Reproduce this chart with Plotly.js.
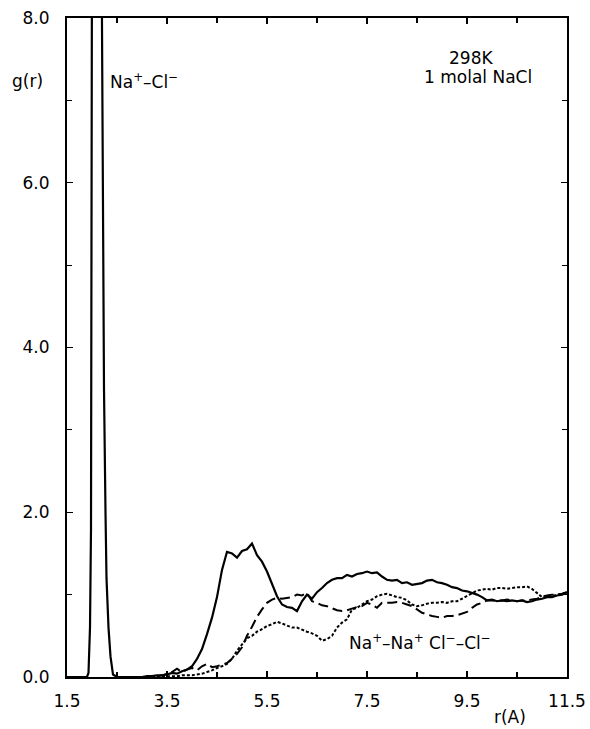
<!DOCTYPE html>
<html>
<head>
<meta charset="utf-8">
<script src="https://cdn.plot.ly/plotly-3.0.1.min.js"></script>
<style>html,body{margin:0;padding:0;background:#fff;}#chart{width:590px;height:729px;}</style>
</head>
<body>
<div id="chart"></div>
<script>
// Na+-Cl- g(r): peak region
var rNaClPeak = [1.5, 1.9, 1.93, 1.96, 1.98, 1.99, 2.0, 2.05, 2.1, 2.15, 2.19, 2.21, 2.24, 2.27, 2.29, 2.33, 2.37, 2.42, 2.5, 2.7];
var gNaClPeak = [0, 0, 0.05, 0.6, 1.8, 4.5, 9, 14, 16, 14, 9, 6, 3.5, 2.0, 1.2, 0.6, 0.25, 0.03, 0, 0];

// common r grid for the far region
var rGrid = [3.0,3.1,3.2,3.3,3.4,3.5,3.6,3.7,3.8,3.9,
  4.0,4.1,4.2,4.3,4.4,4.5,4.6,4.7,4.8,4.9,
  5.0,5.1,5.2,5.3,5.4,5.5,5.6,5.7,5.8,5.9,
  6.0,6.1,6.2,6.3,6.4,6.5,6.6,6.7,6.8,6.9,
  7.0,7.1,7.2,7.3,7.4,7.5,7.6,7.7,7.8,7.9,
  8.0,8.1,8.2,8.3,8.4,8.5,8.6,8.7,8.8,8.9,
  9.0,9.1,9.2,9.3,9.4,9.5,9.6,9.7,9.8,9.9,
  10.0,10.1,10.2,10.3,10.4,10.5,10.6,10.7,10.8,10.9,
  11.0,11.1,11.2,11.3,11.4,11.5];

var gNaClFar = [0.0,0.01,0.01,0.02,0.02,0.03,0.05,0.04,0.07,0.09,
  0.13,0.22,0.34,0.52,0.72,0.97,1.30,1.52,1.50,1.45,
  1.53,1.55,1.62,1.48,1.40,1.28,1.14,0.98,0.88,0.85,
  0.84,0.80,0.92,1.00,0.95,1.03,1.08,1.14,1.18,1.20,
  1.20,1.24,1.22,1.25,1.26,1.28,1.26,1.27,1.22,1.18,
  1.17,1.18,1.14,1.15,1.12,1.13,1.14,1.17,1.18,1.15,
  1.14,1.12,1.09,1.08,1.05,1.04,1.02,1.00,0.97,0.93,
  0.94,0.92,0.93,0.92,0.93,0.92,0.93,0.91,0.92,0.94,
  0.95,0.97,0.97,0.99,1.00,1.03];

var gNaNa = [0,0,0.01,0.01,0.02,0.04,0.06,0.10,0.06,0.09,
  0.11,0.08,0.13,0.16,0.12,0.13,0.15,0.17,0.22,0.28,
  0.36,0.50,0.61,0.73,0.82,0.90,0.94,0.96,0.95,0.96,
  0.97,1.00,0.99,1.02,0.92,0.90,0.87,0.86,0.83,0.81,
  0.80,0.81,0.83,0.85,0.86,0.90,0.88,0.84,0.90,0.90,
  0.90,0.91,0.90,0.88,0.86,0.82,0.78,0.76,0.74,0.73,
  0.72,0.74,0.74,0.75,0.77,0.79,0.84,0.88,0.90,0.93,
  0.93,0.92,0.93,0.94,0.93,0.92,0.93,0.93,0.94,0.95,
  0.97,0.99,1.00,1.00,1.01,1.03];

var gClCl = [0,0,0,0,0.01,0.01,0.01,0.01,0.02,0.02,
  0.02,0.03,0.04,0.06,0.08,0.11,0.13,0.16,0.22,0.32,
  0.40,0.47,0.50,0.55,0.58,0.62,0.64,0.67,0.65,0.62,
  0.60,0.60,0.57,0.55,0.53,0.50,0.44,0.46,0.50,0.60,
  0.66,0.70,0.82,0.84,0.88,0.92,0.94,0.98,1.00,1.01,
  0.99,0.97,0.96,0.93,0.88,0.86,0.87,0.89,0.90,0.90,
  0.91,0.90,0.92,0.92,0.95,0.98,1.02,1.05,1.06,1.07,
  1.06,1.08,1.08,1.07,1.08,1.09,1.09,1.10,1.07,1.02,
  0.97,0.99,0.98,1.00,1.01,1.03];

var xTickVals = [1.5,3.5,5.5,7.5,9.5,11.5];
var xTickText = ["1.5","3.5","5.5","7.5","9.5","11.5"];
var xMinorVals = [2.5,4.5,6.5,8.5,10.5];
var yTickVals = [0,2,4,6,8];
var yTickText = ["0.0","2.0","4.0","6.0","8.0"];
var yMinorVals = [1,3,5,7];

var font = "DejaVu Sans, Liberation Sans, Arial, sans-serif";

var traces = [
  {x: rNaClPeak.concat(rGrid), y: gNaClPeak.concat(gNaClFar), mode: "lines", name: "Na+-Cl-",
   line: {color: "#000", width: 2.2}},
  {x: rGrid, y: gNaNa, mode: "lines", name: "Na+-Na+",
   line: {color: "#000", width: 2, dash: "10px,5px"}},
  {x: rGrid, y: gClCl, mode: "lines", name: "Cl--Cl-",
   line: {color: "#000", width: 2, dash: "3px,2px"}}
];

var axisCommon = {
  showline: true, linecolor: "#000", linewidth: 2, mirror: "ticks",
  ticks: "inside", ticklen: 6, tickwidth: 1.2, tickcolor: "#000",
  showgrid: false, zeroline: false,
  tickfont: {family: font, size: 17, color: "#000"}
};

var layout = {
  width: 590, height: 729,
  margin: {l: 67, r: 23, t: 18, b: 52},
  paper_bgcolor: "#fff", plot_bgcolor: "#fff",
  showlegend: false,
  xaxis: Object.assign({}, axisCommon, {range: [1.5, 11.5], tickmode: "array",
    tickvals: xTickVals, ticktext: xTickText, ticklabelstandoff: 8,
    minor: {tickmode: "array", tickvals: xMinorVals, ticks: "inside", ticklen: 5, tickwidth: 1.2, tickcolor: "#000"}}),
  yaxis: Object.assign({}, axisCommon, {range: [0, 8], tickmode: "array",
    tickvals: yTickVals, ticktext: yTickText, ticklabelstandoff: 12,
    minor: {tickmode: "array", tickvals: yMinorVals, ticks: "inside", ticklen: 5, tickwidth: 1.2, tickcolor: "#000"}}),
  annotations: [
    {xref: "paper", yref: "paper", x: -0.08, y: 0.905, text: "g(r)", showarrow: false,
     xanchor: "center", yanchor: "middle", font: {family: font, size: 17, color: "#000"}},
    {xref: "paper", yref: "paper", x: 0.886, y: -0.060, text: "r(A)", showarrow: false,
     xanchor: "center", yanchor: "middle", font: {family: font, size: 17, color: "#000"}},
    {xref: "x", yref: "y", x: 2.32, y: 7.24, text: "Na<sup>+</sup>–Cl<sup>−</sup>", showarrow: false,
     xanchor: "left", yanchor: "middle", font: {family: font, size: 17, color: "#000"}},
    {xref: "x", yref: "y", x: 9.58, y: 7.52, text: "298K", showarrow: false,
     xanchor: "center", yanchor: "middle", font: {family: font, size: 17, color: "#000"}},
    {xref: "x", yref: "y", x: 9.72, y: 7.28, text: "1 molal NaCl", showarrow: false,
     xanchor: "center", yanchor: "middle", font: {family: font, size: 17, color: "#000"}},
    {xref: "x", yref: "y", x: 7.1, y: 0.42, text: "Na<sup>+</sup>–Na<sup>+</sup> Cl<sup>−</sup>–Cl<sup>−</sup>", showarrow: false,
     xanchor: "left", yanchor: "middle", font: {family: font, size: 17, color: "#000"}}
  ]
};

Plotly.newPlot("chart", traces, layout, {staticPlot: true, displayModeBar: false});
</script>
</body>
</html>
